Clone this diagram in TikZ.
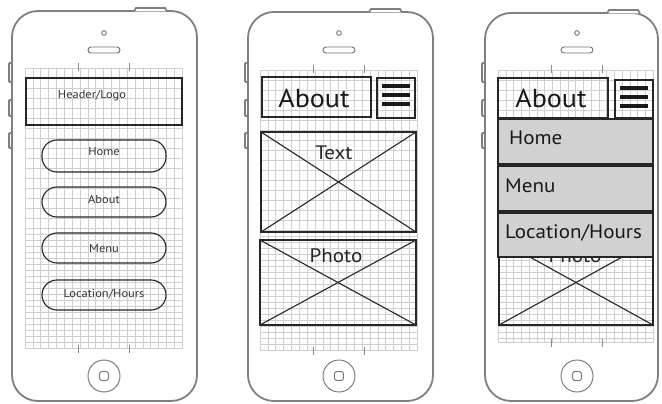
\documentclass[tikz,border=0pt]{standalone}
\usepackage{fontspec}
\setmainfont[FakeStretch=1.08]{PT Sans}
\newcommand\phonebody[5]{% L R T B cx
  \draw[body,rounded corners=26] (#1,#3) rectangle (#2,#4);
  \draw[body,fill=white] (#5+30,#3+0.5) -- (#5+32,#3-3) -- (#5+61,#3-3) -- (#5+63,#3+0.5);
  \draw[body,rounded corners=1] (#1,63) -- (#1-3,63) -- (#1-3,82) -- (#1,82);
  \draw[body,rounded corners=1] (#1,100) -- (#1-3,100) -- (#1-3,116) -- (#1,116);
  \draw[body,rounded corners=1] (#1,133) -- (#1-3,133) -- (#1-3,148) -- (#1,148);
  \draw[thinline] (#5,33) circle (2.3);
  \draw[thinline,rounded corners=3] (#5-16,47) rectangle (#5+16,53);
  \draw[thinline] (#5,376) circle (16);
  \draw[thinline,rounded corners=2.5] (#5-4.5,371.5) rectangle (#5+4.5,380.5);
}
\newcommand\scrgrid[5]{% x0 x1 y0 y1 nlower
  \foreach \i in {0,...,20} \draw[gridline] ({#1+\i*(#2-#1)/20},#3) -- ({#1+\i*(#2-#1)/20},#4);
  \foreach \j in {0,...,16} \draw[gridline] (#1,{#3+\j*10}) -- (#2,{#3+\j*10});
  \foreach \j in {1,...,#5} \draw[gridline] (#1,{#3+160+\j*6}) -- (#2,{#3+160+\j*6});
  \draw[gridline] (#1,#3) rectangle (#2,#4);
  \draw[tick] (#1+53,#3-5) -- (#1+53,#3+3);
  \draw[tick] (#1+104,#3-5) -- (#1+104,#3+3);
  \draw[tick] (#1+53,#4-3) -- (#1+53,#4+5);
  \draw[tick] (#1+104,#4-3) -- (#1+104,#4+5);
}
\newcommand\xbox[4]{%
  \draw[wire] (#1,#2) rectangle (#3,#4);
  \draw[wire] (#1,#2) -- (#3,#4);
  \draw[wire] (#1,#4) -- (#3,#2);
}
\begin{document}
\begin{tikzpicture}[x=1pt,y=-1pt,
  body/.style={draw=black!50,line width=1.8pt},
  thinline/.style={draw=black!55,line width=0.9pt},
  gridline/.style={draw=black!19,line width=0.45pt},
  tick/.style={draw=black!45,line width=0.7pt},
  wire/.style={draw=black!85,line width=1.1pt},
  pill/.style={wire,rounded corners=15},
  small/.style={font=\fontsize{11.5}{12}\selectfont,text=black!80,anchor=base,inner sep=0pt},
  big/.style={font=\fontsize{26}{28}\selectfont,text=black!90,anchor=base,inner sep=0pt},
  mid/.style={font=\fontsize{19.5}{21}\selectfont,text=black!85,anchor=base,inner sep=0pt},
  menuitem/.style={draw=black!85,line width=1.6pt,fill=black!18},
  menutext/.style={font=\fontsize{19.5}{21}\selectfont,text=black!90,anchor=base west,inner sep=0pt}]
\useasboundingbox (0,0) rectangle (662,404);
\fill[white] (0,0) rectangle (662,404);

% ---------- phone 1 ----------
\scrgrid{25}{182}{68}{348}{20}
\phonebody{12}{197}{11}{401}{104}
\draw[wire] (26,78) rectangle (182,125);
\node[small] (hl) at (92,99) {Header/Logo};
\draw[pill] (42,140) rectangle (166,172);
\node[small] (b1) at (104,155) {Home};
\draw[pill] (42,187) rectangle (166,217);
\node[small] (b2) at (104,203) {About};
\draw[pill] (42,233) rectangle (166,263);
\node[small] (b3) at (104,252) {Menu};
\draw[pill] (42,280) rectangle (166,310);
\node[small] (b4) at (104,297) {Location/Hours};

% ---------- phone 2 ----------
\scrgrid{260}{417}{70}{350}{20}
\phonebody{248}{433}{12}{401}{339}
\draw[wire] (262,77) rectangle (371,117);
\node[big] (ab2) at (314,107) {About};
\draw[wire] (377,78) rectangle (415,118);
\foreach \yy in {86,95,104} \draw[black!90,line width=3.6pt] (382,\yy) -- (410,\yy);
\xbox{261}{132}{416}{232}
\node[mid] (tx2) at (334,160) {Text};
\xbox{260}{240}{416}{325}
\node[mid] (ph2) at (336,262) {Photo};

% ---------- phone 3 ----------
\scrgrid{498}{653}{70}{342}{18}
\phonebody{485}{658}{13}{401}{577}
\draw[wire] (498,78) rectangle (608,118);
\node[big] (ab3) at (551,107) {About};
\draw[wire] (615,80) rectangle (653,118);
\foreach \yy in {88,97,106} \draw[black!90,line width=3.2pt] (620,\yy) -- (648,\yy);
\xbox{499}{240}{653}{325}
\node[mid] (ph3) at (575,262) {Photo};
\draw[menuitem] (498,119) rectangle (653,164);
\node[menutext] (m1) at (509,144) {Home};
\draw[menuitem] (498,166) rectangle (653,211);
\node[menutext] (m2) at (505,192) {Menu};
\draw[menuitem] (498,213) rectangle (653,257);
\node[menutext] (m3) at (505,238) {Location/Hours};
\end{tikzpicture}
\end{document}
